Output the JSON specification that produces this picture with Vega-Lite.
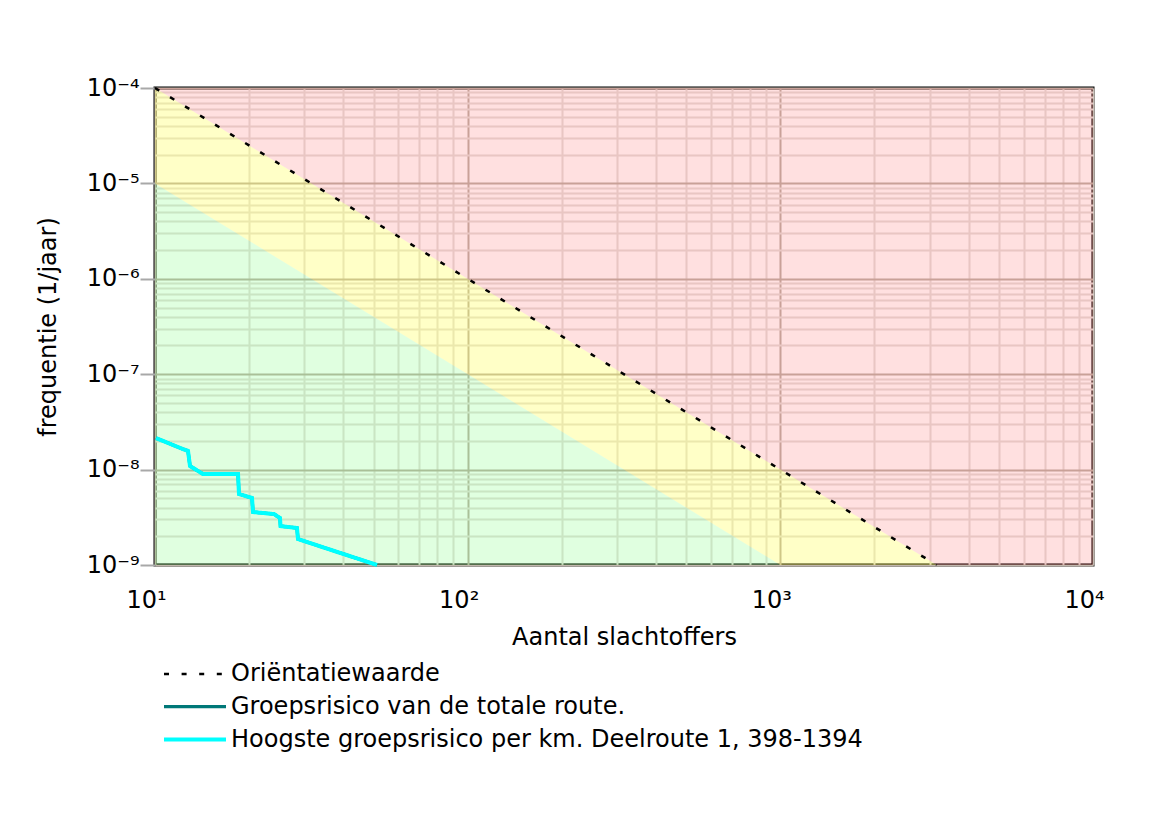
{
  "$schema": "https://vega.github.io/schema/vega-lite/v6.json",
  "width": 938,
  "height": 477,
  "autosize": "none",
  "padding": {"left": 155, "top": 88, "right": 73, "bottom": 255},
  "background": "#ffffff",
  "config": {
    "font": "DejaVu Sans",
    "view": {"stroke": "#000000", "strokeWidth": 3}
  },
  "datasets": {
    "zones": [
      {"zone": "rood", "N": 10, "y": 1e-4, "y2": 1e-4},
      {"zone": "rood", "N": 3162.28, "y": 1e-4, "y2": 1e-9},
      {"zone": "rood", "N": 10000, "y": 1e-4, "y2": 1e-9},
      {"zone": "geel", "N": 10, "y": 1e-4, "y2": 1e-5},
      {"zone": "geel", "N": 1000, "y": 1e-8, "y2": 1e-9},
      {"zone": "geel", "N": 3162.28, "y": 1e-9, "y2": 1e-9},
      {"zone": "groen", "N": 10, "y": 1e-5, "y2": 1e-9},
      {"zone": "groen", "N": 1000, "y": 1e-9, "y2": 1e-9}
    ],
    "lijnen": [
      {"serie": "Oriëntatiewaarde", "N": 10, "y": 1e-4},
      {"serie": "Oriëntatiewaarde", "N": 3162.28, "y": 1e-9},
      {"serie": "Groepsrisico van de totale route.", "N": 10.07, "y": 2.14e-8},
      {"serie": "Groepsrisico van de totale route.", "N": 12.29, "y": 1.64e-8},
      {"serie": "Groepsrisico van de totale route.", "N": 12.75, "y": 1.57e-8},
      {"serie": "Groepsrisico van de totale route.", "N": 12.94, "y": 1.09e-8},
      {"serie": "Groepsrisico van de totale route.", "N": 14.24, "y": 8.99e-9},
      {"serie": "Groepsrisico van de totale route.", "N": 18.43, "y": 8.99e-9},
      {"serie": "Groepsrisico van de totale route.", "N": 18.56, "y": 5.55e-9},
      {"serie": "Groepsrisico van de totale route.", "N": 20.43, "y": 5.04e-9},
      {"serie": "Groepsrisico van de totale route.", "N": 20.58, "y": 3.59e-9},
      {"serie": "Groepsrisico van de totale route.", "N": 24.02, "y": 3.42e-9},
      {"serie": "Groepsrisico van de totale route.", "N": 25.1, "y": 3.11e-9},
      {"serie": "Groepsrisico van de totale route.", "N": 25.2, "y": 2.56e-9},
      {"serie": "Groepsrisico van de totale route.", "N": 28.45, "y": 2.44e-9},
      {"serie": "Groepsrisico van de totale route.", "N": 28.66, "y": 1.87e-9},
      {"serie": "Groepsrisico van de totale route.", "N": 51.3, "y": 1e-9},
      {"serie": "Hoogste groepsrisico per km. Deelroute 1, 398-1394", "N": 10.07, "y": 2.14e-8},
      {"serie": "Hoogste groepsrisico per km. Deelroute 1, 398-1394", "N": 12.29, "y": 1.64e-8},
      {"serie": "Hoogste groepsrisico per km. Deelroute 1, 398-1394", "N": 12.75, "y": 1.57e-8},
      {"serie": "Hoogste groepsrisico per km. Deelroute 1, 398-1394", "N": 12.94, "y": 1.09e-8},
      {"serie": "Hoogste groepsrisico per km. Deelroute 1, 398-1394", "N": 14.24, "y": 8.99e-9},
      {"serie": "Hoogste groepsrisico per km. Deelroute 1, 398-1394", "N": 18.43, "y": 8.99e-9},
      {"serie": "Hoogste groepsrisico per km. Deelroute 1, 398-1394", "N": 18.56, "y": 5.55e-9},
      {"serie": "Hoogste groepsrisico per km. Deelroute 1, 398-1394", "N": 20.43, "y": 5.04e-9},
      {"serie": "Hoogste groepsrisico per km. Deelroute 1, 398-1394", "N": 20.58, "y": 3.59e-9},
      {"serie": "Hoogste groepsrisico per km. Deelroute 1, 398-1394", "N": 24.02, "y": 3.42e-9},
      {"serie": "Hoogste groepsrisico per km. Deelroute 1, 398-1394", "N": 25.1, "y": 3.11e-9},
      {"serie": "Hoogste groepsrisico per km. Deelroute 1, 398-1394", "N": 25.2, "y": 2.56e-9},
      {"serie": "Hoogste groepsrisico per km. Deelroute 1, 398-1394", "N": 28.45, "y": 2.44e-9},
      {"serie": "Hoogste groepsrisico per km. Deelroute 1, 398-1394", "N": 28.66, "y": 1.87e-9},
      {"serie": "Hoogste groepsrisico per km. Deelroute 1, 398-1394", "N": 51.3, "y": 1e-9}
    ]
  },
  "encoding": {
    "x": {
      "field": "N",
      "type": "quantitative",
      "scale": {"type": "log", "domain": [10, 10000], "nice": false, "zero": false},
      "axis": {
        "title": "Aantal slachtoffers",
        "values": [10, 20, 30, 40, 50, 60, 70, 80, 90, 100, 200, 300, 400, 500, 600, 700, 800, 900, 1000, 2000, 3000, 4000, 5000, 6000, 7000, 8000, 9000, 10000],
        "grid": true,
        "gridWidth": 2,
        "gridColor": {"condition": {"test": "abs(log(datum.value)/LN10 - round(log(datum.value)/LN10)) < 0.001", "value": "#c2b8ae"}, "value": "#e6e2de"},
        "ticks": false,
        "domain": false,
        "labelExpr": "abs(log(datum.value)/LN10 - round(log(datum.value)/LN10)) < 0.001 ? '10' + (round(log(datum.value)/LN10) < 0 ? '⁻' : '') + ['⁰','¹','²','³','⁴','⁵','⁶','⁷','⁸','⁹'][abs(round(log(datum.value)/LN10))] : ''",
        "labelFontSize": 24,
        "labelColor": "#000000",
        "labelBaseline": "top",
        "labelPadding": 23,
        "labelOffset": -9,
        "labelOverlap": false,
        "labelFlush": false,
        "labelBound": false,
        "titleFontSize": 24,
        "titleFontWeight": "normal",
        "titleColor": "#000000",
        "titleBaseline": "middle",
        "titleY": 72
      }
    },
    "y": {
      "field": "y",
      "type": "quantitative",
      "scale": {"type": "log", "domain": [1e-9, 1e-4], "nice": false, "zero": false},
      "axis": {
        "title": "frequentie (1/jaar)",
        "values": [1e-9, 2e-9, 3e-9, 4e-9, 5e-9, 6e-9, 7e-9, 8e-9, 9e-9, 1e-8, 2e-8, 3e-8, 4e-8, 5e-8, 6e-8, 7e-8, 8e-8, 9e-8, 1e-7, 2e-7, 3e-7, 4e-7, 5e-7, 6e-7, 7e-7, 8e-7, 9e-7, 1e-6, 2e-6, 3e-6, 4e-6, 5e-6, 6e-6, 7e-6, 8e-6, 9e-6, 1e-5, 2e-5, 3e-5, 4e-5, 5e-5, 6e-5, 7e-5, 8e-5, 9e-5, 1e-4],
        "grid": true,
        "gridWidth": 2,
        "gridColor": {"condition": {"test": "abs(log(datum.value)/LN10 - round(log(datum.value)/LN10)) < 0.001", "value": "#c2b8ae"}, "value": "#e6e2de"},
        "ticks": true,
        "tickSize": 15,
        "tickWidth": 2,
        "tickColor": "#a8a8a8",
        "tickOpacity": {"condition": {"test": "abs(log(datum.value)/LN10 - round(log(datum.value)/LN10)) < 0.001", "value": 1}, "value": 0},
        "domain": false,
        "labelExpr": "abs(log(datum.value)/LN10 - round(log(datum.value)/LN10)) < 0.001 ? '10' + (round(log(datum.value)/LN10) < 0 ? '⁻' : '') + ['⁰','¹','²','³','⁴','⁵','⁶','⁷','⁸','⁹'][abs(round(log(datum.value)/LN10))] : ''",
        "labelFontSize": 24,
        "labelColor": "#000000",
        "labelPadding": 1,
        "labelOverlap": false,
        "labelFlush": false,
        "labelBound": false,
        "titleFontSize": 24,
        "titleFontWeight": "normal",
        "titleColor": "#000000",
        "titleBaseline": "middle",
        "titleX": -107
      }
    }
  },
  "layer": [
    {
      "data": {"name": "zones"},
      "transform": [{"filter": "datum.zone == 'rood'"}],
      "mark": {"type": "area", "color": "#ff0000", "opacity": 0.12},
      "encoding": {"y2": {"field": "y2"}}
    },
    {
      "data": {"name": "zones"},
      "transform": [{"filter": "datum.zone == 'geel'"}],
      "mark": {"type": "area", "color": "#ffff00", "opacity": 0.22},
      "encoding": {"y2": {"field": "y2"}}
    },
    {
      "data": {"name": "zones"},
      "transform": [{"filter": "datum.zone == 'groen'"}],
      "mark": {"type": "area", "color": "#00ff00", "opacity": 0.12},
      "encoding": {"y2": {"field": "y2"}}
    },
    {
      "data": {"name": "lijnen"},
      "mark": {"type": "line", "strokeCap": "butt"},
      "encoding": {
        "color": {
          "field": "serie",
          "type": "nominal",
          "scale": {"domain": ["Oriëntatiewaarde", "Groepsrisico van de totale route.", "Hoogste groepsrisico per km. Deelroute 1, 398-1394"], "range": ["#000000", "#007878", "#00ffff"]},
          "legend": {
            "orient": "none",
            "legendX": 7,
            "legendY": 569,
            "title": null,
            "symbolType": "M-1,0H3",
            "symbolSize": 961,
            "labelFontSize": 24,
            "labelColor": "#000000",
            "labelOffset": 34,
            "labelLimit": 900,
            "rowPadding": 3
          }
        },
        "strokeDash": {
          "field": "serie",
          "type": "nominal",
          "scale": {"domain": ["Oriëntatiewaarde", "Groepsrisico van de totale route.", "Hoogste groepsrisico per km. Deelroute 1, 398-1394"], "range": [[5, 12.6], [1, 0], [1, 0]]}
        },
        "strokeWidth": {
          "field": "serie",
          "type": "nominal",
          "scale": {"domain": ["Oriëntatiewaarde", "Groepsrisico van de totale route.", "Hoogste groepsrisico per km. Deelroute 1, 398-1394"], "range": [2.5, 4, 5]}
        }
      }
    }
  ]
}
